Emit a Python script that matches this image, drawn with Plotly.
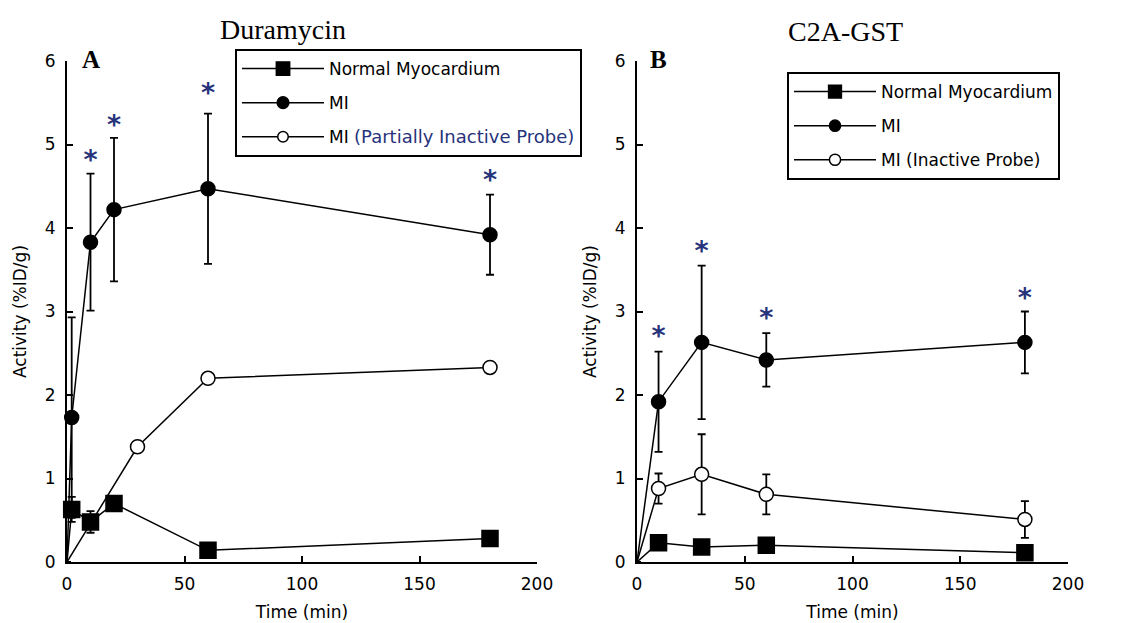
import plotly.graph_objects as go

W, H = 1134, 623

# ---- Panel A: Duramycin ----
t_a = [0, 2, 10, 20, 60, 180]
a_norm = [0, 0.63, 0.48, 0.70, 0.14, 0.28]
a_norm_err = [0, 0.15, 0.13, 0, 0, 0]
a_mi = [0, 1.73, 3.83, 4.22, 4.47, 3.92]
a_mi_err = [0, 1.20, 0.82, 0.86, 0.90, 0.48]
t_a_inact = [0, 30, 60, 180]
a_inact = [0, 1.38, 2.20, 2.33]
t_a_star = [10, 20, 60, 180]
a_star = [4.79, 5.21, 5.59, 4.55]

# ---- Panel B: C2A-GST ----
t_b = [0, 10, 30, 60, 180]
b_norm = [0, 0.23, 0.18, 0.20, 0.11]
b_mi = [0, 1.92, 2.63, 2.42, 2.63]
b_mi_err = [0, 0.60, 0.92, 0.32, 0.37]
b_inact = [0, 0.88, 1.05, 0.81, 0.51]
b_inact_err = [0, 0.18, 0.48, 0.24, 0.22]
t_b_star = [10, 30, 60, 180]
b_star = [2.68, 3.70, 2.90, 3.14]

x_ticks = [0, 50, 100, 150, 200]
y_ticks = [0, 1, 2, 3, 4, 5, 6]

SANS = "DejaVu Sans"
SERIF = "Liberation Serif"
NAVY = "#27337a"

fig = go.Figure()


def sizes(n, s):
    # the origin point only anchors the line, it carries no marker
    return [0] + [s] * (n - 1)


def err(arr):
    return dict(type="data", array=arr, color="black", thickness=1.8, width=4)


def add_series(x, y, e, name, symbol, fill, size, xa, ya, leg, grp):
    fig.add_trace(go.Scatter(
        x=x, y=y, mode="lines+markers", name=name, opacity=1,
        line=dict(color="black", width=1.5),
        marker=dict(symbol=symbol, size=sizes(len(x), size), color=fill, opacity=1,
                    line=dict(color="black", width=1.5)),
        error_y=err(e) if e is not None else None,
        xaxis=xa, yaxis=ya, legend=leg, legendgroup=grp, cliponaxis=False,
    ))


def add_stars(x, y, xa, ya):
    fig.add_trace(go.Scatter(
        x=x, y=y, mode="text", text=["<b>*</b>"] * len(x), textposition="middle center",
        textfont=dict(family=SANS, size=27, color=NAVY),
        showlegend=False, hoverinfo="skip", xaxis=xa, yaxis=ya, cliponaxis=False,
    ))


inact_a = ('MI <span style="color:%s;font-size:18px">(Partially Inactive Probe)</span>'
           % NAVY)

add_series(t_a, a_norm, a_norm_err, "Normal Myocardium", "square", "black", 16, "x", "y", "legend", "a1")
add_series(t_a, a_mi, a_mi_err, "MI", "circle", "black", 14, "x", "y", "legend", "a2")
add_series(t_a_inact, a_inact, None, inact_a, "circle", "white", 14, "x", "y", "legend", "a3")
add_stars(t_a_star, a_star, "x", "y")

add_series(t_b, b_norm, None, "Normal Myocardium", "square", "black", 16, "x2", "y2", "legend2", "b1")
add_series(t_b, b_mi, b_mi_err, "MI", "circle", "black", 14, "x2", "y2", "legend2", "b2")
add_series(t_b, b_inact, b_inact_err, "MI (Inactive Probe)", "circle", "white", 14, "x2", "y2", "legend2", "b3")
add_stars(t_b_star, b_star, "x2", "y2")

tick_font = dict(family=SANS, size=17, color="black")


def xaxis(domain, anchor):
    return dict(domain=domain, anchor=anchor, range=[0, 200], tickvals=x_ticks,
                showline=True, linecolor="black", linewidth=2, ticks="inside",
                ticklen=6, tickwidth=1.5, tickcolor="black", showgrid=False,
                zeroline=False, tickfont=tick_font, ticklabelstandoff=6,
                automargin=False,
                title=dict(text="Time (min)", font=tick_font, standoff=13))


def yaxis(domain, anchor):
    return dict(domain=domain, anchor=anchor, range=[0, 6], tickvals=y_ticks,
                showline=True, linecolor="black", linewidth=2, ticks="inside",
                ticklen=6, tickwidth=1.5, tickcolor="black", showgrid=False,
                zeroline=False, tickfont=tick_font, ticklabelstandoff=6,
                automargin=False,
                title=dict(text="Activity (%ID/g)", font=tick_font, standoff=14))


ydom = [1 - 562 / H, 1 - 61 / H]

leg_common = dict(xanchor="left", yanchor="top", bordercolor="black", borderwidth=2,
                  bgcolor="white", font=dict(family=SANS, size=17, color="black"),
                  itemwidth=82, tracegroupgap=9, traceorder="grouped")

fig.update_layout(
    width=W, height=H, margin=dict(l=0, r=0, t=0, b=0),
    paper_bgcolor="white", plot_bgcolor="white", showlegend=True,
    xaxis=xaxis([67 / W, 537 / W], "y"),
    yaxis=yaxis(ydom, "x"),
    xaxis2=xaxis([637 / W, 1068 / W], "y2"),
    yaxis2=yaxis(ydom, "x2"),
    legend=dict(x=235 / W, y=1 - 49 / H, **leg_common),
    legend2=dict(x=787 / W, y=1 - 72 / H, **leg_common),
    annotations=[
        dict(text="Duramycin", x=283 / W, y=1 - 30 / H, xref="paper", yref="paper",
             xanchor="center", yanchor="middle", showarrow=False,
             font=dict(family=SERIF, size=28, color="black")),
        dict(text="C2A-GST", x=845 / W, y=1 - 32 / H, xref="paper", yref="paper",
             xanchor="center", yanchor="middle", showarrow=False,
             font=dict(family=SERIF, size=28, color="black")),
        dict(text="<b>A</b>", x=91 / W, y=1 - 60 / H, xref="paper", yref="paper",
             xanchor="center", yanchor="middle", showarrow=False,
             font=dict(family=SERIF, size=25, color="black")),
        dict(text="<b>B</b>", x=658 / W, y=1 - 60 / H, xref="paper", yref="paper",
             xanchor="center", yanchor="middle", showarrow=False,
             font=dict(family=SERIF, size=25, color="black")),
    ],
)

fig.write_html("out.html")
